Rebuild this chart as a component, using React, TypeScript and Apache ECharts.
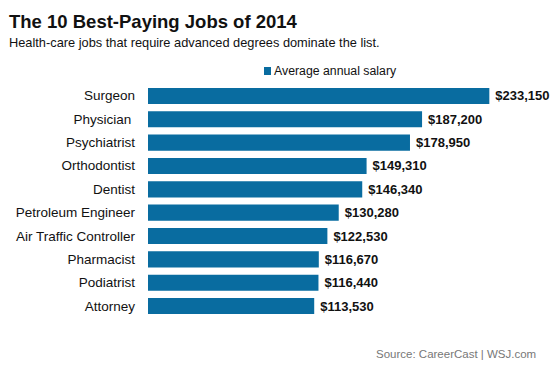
import React, { useEffect, useRef } from "react";
import * as echarts from "echarts";

const categories = [
  "Surgeon",
  "Physician ",
  "Psychiatrist",
  "Orthodontist",
  "Dentist",
  "Petroleum Engineer",
  "Air Traffic Controller",
  "Pharmacist",
  "Podiatrist",
  "Attorney",
];
const salaries = [233150, 187200, 178950, 149310, 146340, 130280, 122530, 116670, 116440, 113530];
const seriesName = "Average annual salary";
const titleText = "The 10 Best-Paying Jobs of 2014";
const subtitleText = "Health-care jobs that require advanced degrees dominate the list.";
const sourceText = "Source: CareerCast | WSJ.com";

const FONT = "Arial, 'Liberation Sans', Helvetica, sans-serif";

export default function App() {
  const ref = useRef<HTMLDivElement>(null);
  useEffect(() => {
    if (!ref.current) return;
    const chart = echarts.init(ref.current, undefined, { renderer: "svg" });
    chart.setOption({
      animation: false,
      backgroundColor: "#ffffff",
      textStyle: { fontFamily: FONT },
      title: [
        {
          text: titleText,
          left: 4,
          top: 7,
          textStyle: { fontSize: 18.5, fontWeight: "bold", color: "#111", fontFamily: FONT },
        },
        {
          text: subtitleText,
          left: 4,
          top: 31,
          textStyle: { fontSize: 12.8, fontWeight: "normal", color: "#111", fontFamily: FONT },
        },
        {
          text: sourceText,
          left: 371,
          top: 343,
          textStyle: { fontSize: 11.5, fontWeight: "normal", color: "#777", fontFamily: FONT },
        },
      ],
      legend: {
        data: [seriesName],
        left: 259,
        top: 60,
        icon: "rect",
        itemWidth: 7,
        itemHeight: 8,
        textStyle: { fontSize: 12.3, color: "#111", fontFamily: FONT, padding: [0, 0, 0, -2] },
      },
      grid: { left: 148, right: 39, top: 84.3, bottom: 369 - 317.7, containLabel: false },
      xAxis: {
        type: "value",
        min: 0,
        max: 250000,
        show: false,
      },
      yAxis: {
        type: "category",
        data: categories,
        inverse: true,
        axisLine: { show: false },
        axisTick: { show: false },
        axisLabel: { fontSize: 13.5, color: "#111", margin: 13, fontFamily: FONT },
      },
      series: [
        {
          name: seriesName,
          type: "bar",
          data: salaries,
          barCategoryGap: "31%",
          itemStyle: { color: "#096ca0" },
          label: {
            show: true,
            position: "right",
            distance: 6,
            fontSize: 13,
            fontWeight: "bold",
            color: "#111",
            fontFamily: FONT,
            formatter: (p: any) => "$" + Number(p.value).toLocaleString("en-US"),
          },
        },
      ],
    });
    return () => chart.dispose();
  }, []);
  return <div ref={ref} style={{ width: 553, height: 369, position: "absolute", left: 0, top: 0 }} />;
}
